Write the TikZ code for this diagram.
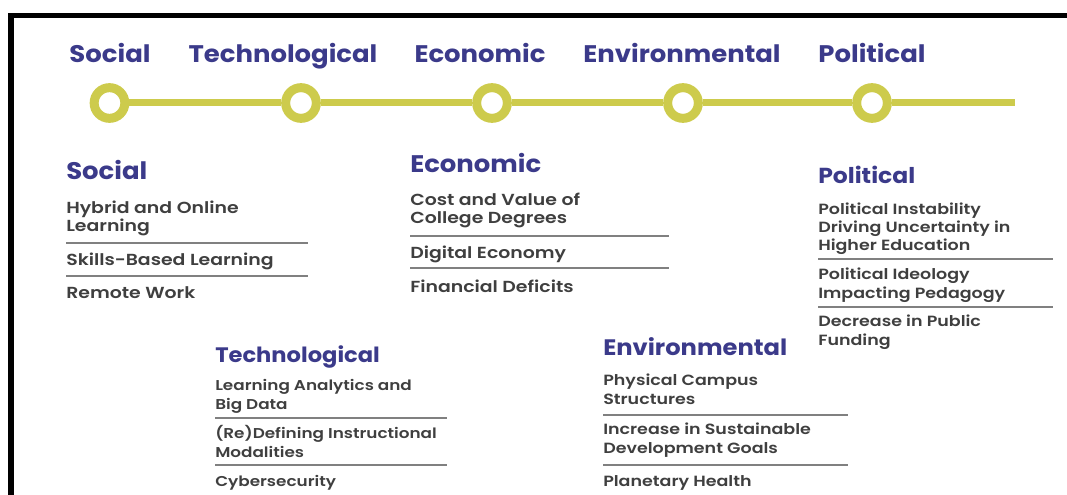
\documentclass[tikz,border=0pt]{standalone}
\usepackage{fontspec}
\setmainfont{Poppins}
\newfontfamily\headfont{Poppins}[UprightFont={* Bold}, FakeStretch=1.08]
\newfontfamily\itemfont{Poppins}[UprightFont={* SemiBold}, FakeStretch=1.18]
\usetikzlibrary{positioning,backgrounds}
\definecolor{HeadBlue}{HTML}{3B3A8A}
\definecolor{ItemGray}{HTML}{3F3F3F}
\definecolor{RuleGray}{HTML}{808080}
\definecolor{Olive}{HTML}{CDCB4C}
\tikzset{%
  head/.style={font=\headfont\fontsize{#1}{20}\selectfont, text=HeadBlue, inner sep=0pt, anchor=base west},
  head/.default=18,
  toplabel/.style={head, anchor=base},
  item/.style={font=\itemfont\fontsize{#1}{13.6}\selectfont, text=ItemGray, inner sep=0pt, anchor=base west, align=left},
  item/.default=12,
  rule/.style={draw=RuleGray, line width=1.1pt},
  ring/.style={circle, draw=Olive, line width=6.75pt, fill=white, minimum size=23pt, inner sep=0pt},
  track/.style={draw=Olive, line width=5.25pt}
}

\begin{document}
\begin{tikzpicture}[x=0.75pt, y=-0.75pt]
 \useasboundingbox (0,0) rectangle (1067,495);
 \draw[line width=4.3pt] (11,495) -- (11,15.5) -- (1067,15.5);

 % timeline
 \node[toplabel] (tsoc) at (110,63) {Social};
 \node[toplabel] (ttec) at (283,63) {Technological};
 \node[toplabel] (teco) at (480,63) {Economic};
 \node[toplabel] (tenv) at (682,63) {Environmental};
 \node[toplabel] (tpol) at (872,63) {Political};

 \node[ring] (c1) at (109.5,103) {};
 \node[ring] (c2) at (301,103) {};
 \node[ring] (c3) at (492,103) {};
 \node[ring] (c4) at (683,103) {};
 \node[ring] (c5) at (872,103) {};
 \coordinate (tend) at (1015,103);

 \begin{scope}[on background layer]
  \draw[track] (c1) -- (c2) -- (c3) -- (c4) -- (c5) -- (tend);
 \end{scope}

 % Social (multi-line items sit on their last baseline)
 \node[head] (soc) at (66,180) {Social};
 \node[item] (soc1) at (66,232) {Hybrid and Online\\Learning};
 \node[item] (soc2) at (66,266) {Skills-Based Learning};
 \node[item] (soc3) at (66,299) {Remote Work};
 \draw[rule] (66,243) -- ++(242,0);
 \draw[rule] (66,276) -- ++(242,0);

 % Economic
 \node[head] (eco) at (410,173) {Economic};
 \node[item] (eco1) at (410,224) {Cost and Value of\\College Degrees};
 \node[item] (eco2) at (410,259) {Digital Economy};
 \node[item] (eco3) at (410,292) {Financial Deficits};
 \draw[rule] (410,236) -- ++(259,0);
 \draw[rule] (410,268) -- ++(259,0);

 % Political
 \node[head=16.3] (pol) at (818,184) {Political};
 \node[item=11.1] (pol1) at (818,251) {Political Instability\\Driving Uncertainty in\\Higher Education};
 \node[item=11.1] (pol2) at (818,298) {Political Ideology\\Impacting Pedagogy};
 \node[item=11.1] (pol3) at (818,345) {Decrease in Public\\Funding};
 \draw[rule] (818,259) -- ++(235,0);
 \draw[rule] (818,307) -- ++(235,0);

 % Technological
 \node[head=15.7] (tec) at (215,362) {Technological};
 \node[item=10.7] (tec1) at (215,409) {Learning Analytics and\\Big Data};
 \node[item=10.7] (tec2) at (215,457) {(Re)Defining Instructional\\Modalities};
 \node[item=10.7] (tec3) at (215,486) {Cybersecurity};
 \draw[rule] (215,418) -- ++(232,0);
 \draw[rule] (215,465) -- ++(232,0);

 % Environmental
 \node[head=16.8] (env) at (603,355) {Environmental};
 \node[item=11.1] (env1) at (603,404) {Physical Campus\\Structures};
 \node[item=11.1] (env2) at (603,453) {Increase in Sustainable\\Development Goals};
 \node[item=11.1] (env3) at (603,486) {Planetary Health};
 \draw[rule] (603,415) -- ++(245,0);
 \draw[rule] (603,465) -- ++(245,0);

\end{tikzpicture}
\end{document}
